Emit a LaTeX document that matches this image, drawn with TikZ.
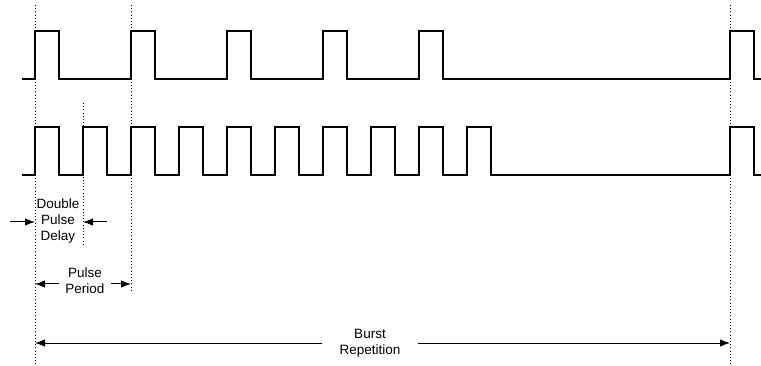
\documentclass[tikz,border=0pt]{standalone}
\usepackage{fontspec}
\setmainfont{Liberation Sans}
\usepackage{tikz}
\usetikzlibrary{arrows.meta}

\tikzset{
  wave/.style = {line width = 1.2pt, line join = miter},
  guide/.style = {line width = 0.9pt, dash pattern = on 1pt off 2.2pt},
  dimarrow/.style = {line width = 1pt, -{Latex[length = 10pt, width = 7.5pt]}},
  dimtext/.style = {align = center, font = \fontsize{13.5}{16}\selectfont, inner ysep = 0pt}
}

\begin{document}
\begin{tikzpicture}[x = 1pt, y = -1pt]
\useasboundingbox (0, 0) rectangle (761, 366);
% single pulses
\draw[wave] (22, 79) foreach \x in {35, 131, 227, 323, 419, 730} { -- (\x, 79) -- (\x, 31) -- (\x + 24, 31) -- (\x + 24, 79) } -- (761, 79);
% double pulses
\draw[wave] (22, 175) foreach \x in {35, 83, 131, 179, 227, 275, 323, 371, 419, 467, 730} { -- (\x, 175) -- (\x, 127) -- (\x + 24, 127) -- (\x + 24, 175) } -- (761, 175);
% guides
\draw[guide] (35, 5) -- (35, 366);
\draw[guide] (83, 103) -- (83, 245);
\draw[guide] (131, 5) -- (131, 292);
\draw[guide] (730, 5) -- (730, 366);
% double pulse delay
\node[dimtext] (dpd) at (58, 221) {Double\\Pulse\\Delay};
\coordinate (dpdl) at (10, 222);
\coordinate (dpdr) at (107, 222);
\draw[dimarrow] (dpdl) -- (35, 222);
\draw[dimarrow] (dpdr) -- (83, 222);
% pulse period
\node[dimtext, inner xsep = 6pt] (pp) at (85, 281) {Pulse\\Period};
\coordinate (ppl) at (35, 284);
\coordinate (ppr) at (131, 284);
\draw[dimarrow] (pp.west |- ppl) -- (ppl);
\draw[dimarrow] (pp.east |- ppr) -- (ppr);
% burst repetition
\node[dimtext, inner xsep = 17pt] (br) at (370, 343) {Burst\\Repetition};
\coordinate (brl) at (35, 343);
\coordinate (brr) at (730, 343);
\draw[dimarrow] (br.west) -- (brl);
\draw[dimarrow] (br.east) -- (brr);
\end{tikzpicture}
\end{document}
